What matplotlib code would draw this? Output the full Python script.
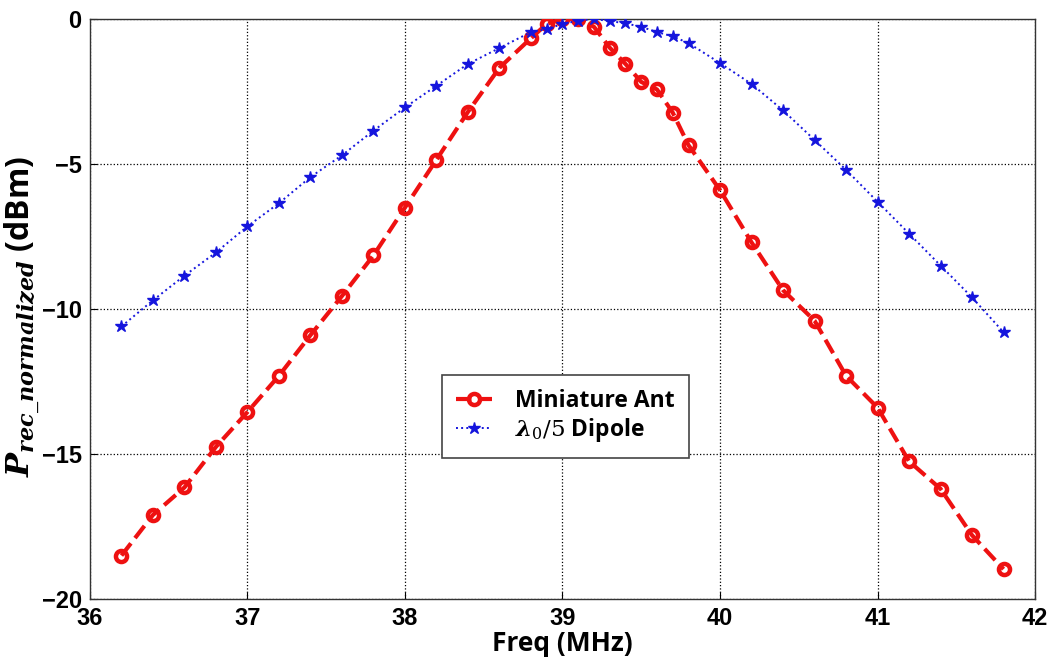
import numpy as np
import matplotlib.pyplot as plt
from matplotlib import font_manager

# data
freq_ant = [36.2, 36.4, 36.6, 36.8, 37.0, 37.2, 37.4, 37.6, 37.8, 38.0, 38.2, 38.4, 38.6, 38.8,
            38.9, 39.0, 39.1, 39.2, 39.3, 39.4, 39.5, 39.6, 39.7, 39.8,
            40.0, 40.2, 40.4, 40.6, 40.8, 41.0, 41.2, 41.4, 41.6, 41.8]
p_ant = [-18.5, -17.1, -16.15, -14.75, -13.55, -12.3, -10.9, -9.55, -8.15, -6.5, -4.85, -3.2, -1.68, -0.66,
         -0.17, 0.0, 0.0, -0.27, -0.99, -1.55, -2.17, -2.43, -3.23, -4.35,
         -5.9, -7.7, -9.35, -10.4, -12.3, -13.4, -15.25, -16.2, -17.8, -18.97]

freq_dip = [36.2, 36.4, 36.6, 36.8, 37.0, 37.2, 37.4, 37.6, 37.8, 38.0, 38.2, 38.4, 38.6, 38.8,
            38.9, 39.0, 39.1, 39.2, 39.3, 39.4, 39.5, 39.6, 39.7, 39.8,
            40.0, 40.2, 40.4, 40.6, 40.8, 41.0, 41.2, 41.4, 41.6, 41.8]
p_dip = [-10.6, -9.7, -8.85, -8.05, -7.15, -6.35, -5.45, -4.7, -3.85, -3.05, -2.3, -1.55, -1.0, -0.45,
         -0.35, -0.17, -0.06, 0.0, -0.07, -0.15, -0.27, -0.45, -0.6, -0.83,
         -1.52, -2.24, -3.15, -4.17, -5.2, -6.3, -7.4, -8.5, -9.6, -10.8]

xticks = [36, 37, 38, 39, 40, 41, 42]
yticks = [-20, -15, -10, -5, 0]

names = {f.name for f in font_manager.fontManager.ttflist}
tick_font = 'Liberation Sans Narrow' if 'Liberation Sans Narrow' in names else 'Liberation Sans'

plt.rcParams['mathtext.fontset'] = 'custom'
plt.rcParams['mathtext.rm'] = 'DejaVu Serif'
plt.rcParams['mathtext.it'] = 'DejaVu Serif:italic:bold'
plt.rcParams['mathtext.bf'] = 'DejaVu Serif:bold'

fig = plt.figure(figsize=(10.51, 6.69), dpi=100)
ax = fig.add_axes([0.0856, 0.1046, 0.8992, 0.867])

ax.plot(freq_ant, p_ant, '--', color='#ee1111', lw=3, marker='o', ms=8,
        mfc='none', mec='#ee1111', mew=3.2, label='Miniature Ant', zorder=3)
ax.plot(freq_dip, p_dip, ':', color='#1515dd', lw=1.4, marker='*', ms=9,
        mfc='#1515dd', mec='#1515dd', label=r'$\lambda_0/5$ Dipole', zorder=3)

ax.set_xlim(36, 42)
ax.set_ylim(-20, 0)
ax.set_xticks(xticks)
ax.set_yticks(yticks)
ax.grid(True, color='black', linestyle=':', lw=0.9)
ax.tick_params(direction='in', length=5, width=0.8, labelsize=17, pad=6)
for lab in ax.get_xticklabels() + ax.get_yticklabels():
    lab.set_fontfamily(tick_font)
    lab.set_fontweight('bold')
for sp in ax.spines.values():
    sp.set_color('#333333')
    sp.set_linewidth(1)

ax.set_xlabel('Freq (MHz)', fontsize=19, fontweight='bold', family='Open Sans', labelpad=0)
ax.set_ylabel(r'$P_{rec\_normalized}$ (dBm)', fontsize=23, fontweight='bold', family='Open Sans')
ax.yaxis.set_label_coords(-0.052, 0.487)

leg = ax.legend(loc='upper left', bbox_to_anchor=(0.3725, 0.386), fancybox=False,
                framealpha=1, edgecolor='#444444', prop={'family': 'Open Sans', 'weight': 'bold', 'size': 16.5},
                handlelength=1.6, handletextpad=1.0, borderpad=0.6, labelspacing=0.15,
                borderaxespad=0)
leg.get_frame().set_linewidth(1.2)

plt.savefig('out.png', dpi=100)
